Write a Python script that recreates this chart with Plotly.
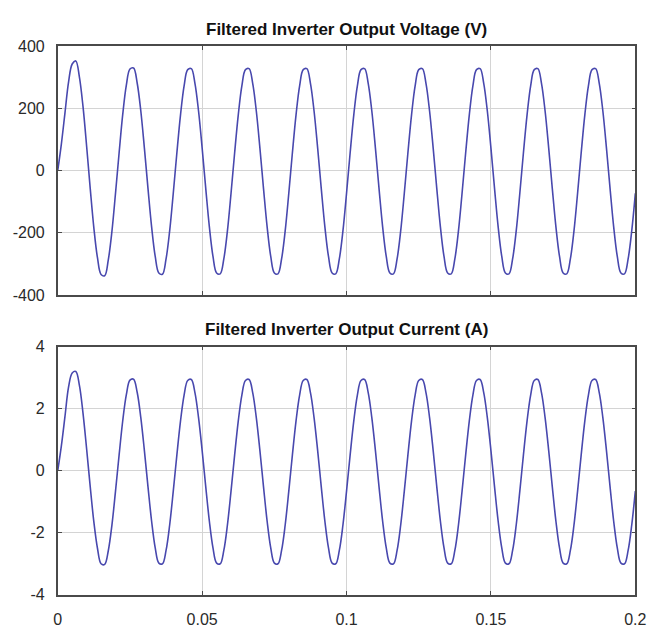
import numpy as np
import plotly.graph_objects as go

# sample grid: 0 .. 0.2 s, 1.25 ms step (161 samples)
time_s = np.linspace(0, 0.2, 161)

# Filtered inverter output voltage (V), read per 1.25 ms sample, one row per 20 ms cycle
voltage_v = [
    0, 85, 185, 285, 342, 352, 300, 205, 78, -58, -184, -280, -334, -338, -287, -196,
    -73, 57, 180, 274, 326, 329, 281, 192, 72, -58, -181, -276, -329, -333, -284, -194,
    -73, 57, 178, 272, 324, 327, 280, 191, 72, -58, -181, -276, -329, -332, -284, -194,
    -73, 57, 178, 272, 324, 327, 280, 191, 72, -58, -181, -276, -329, -332, -284, -194,
    -73, 57, 178, 272, 324, 327, 280, 191, 72, -58, -181, -276, -329, -332, -284, -194,
    -73, 57, 178, 272, 324, 327, 280, 191, 72, -58, -181, -276, -329, -332, -284, -194,
    -73, 57, 178, 272, 324, 327, 280, 191, 72, -58, -181, -276, -329, -332, -284, -194,
    -73, 57, 178, 272, 324, 327, 280, 191, 72, -58, -181, -276, -329, -332, -284, -194,
    -73, 57, 178, 272, 324, 327, 280, 191, 72, -58, -181, -276, -329, -332, -284, -194,
    -73, 57, 178, 272, 324, 327, 280, 191, 72, -58, -181, -276, -329, -332, -284, -194,
    -73,
]

# Filtered inverter output current (A)
current_a = [
    0, 0.80, 1.75, 2.70, 3.15, 3.20, 2.75, 1.85, 0.70, -0.52, -1.65, -2.50, -3.00, -3.02, -2.58, -1.76,
    -0.66, 0.51, 1.61, 2.45, 2.92, 2.95, 2.53, 1.72, 0.65, -0.52, -1.63, -2.49, -2.98, -3.00, -2.57, -1.75,
    -0.66, 0.51, 1.60, 2.44, 2.91, 2.94, 2.52, 1.71, 0.65, -0.52, -1.63, -2.49, -2.98, -3.00, -2.57, -1.75,
    -0.66, 0.51, 1.60, 2.44, 2.91, 2.94, 2.52, 1.71, 0.65, -0.52, -1.63, -2.49, -2.98, -3.00, -2.57, -1.75,
    -0.66, 0.51, 1.60, 2.44, 2.91, 2.94, 2.52, 1.71, 0.65, -0.52, -1.63, -2.49, -2.98, -3.00, -2.57, -1.75,
    -0.66, 0.51, 1.60, 2.44, 2.91, 2.94, 2.52, 1.71, 0.65, -0.52, -1.63, -2.49, -2.98, -3.00, -2.57, -1.75,
    -0.66, 0.51, 1.60, 2.44, 2.91, 2.94, 2.52, 1.71, 0.65, -0.52, -1.63, -2.49, -2.98, -3.00, -2.57, -1.75,
    -0.66, 0.51, 1.60, 2.44, 2.91, 2.94, 2.52, 1.71, 0.65, -0.52, -1.63, -2.49, -2.98, -3.00, -2.57, -1.75,
    -0.66, 0.51, 1.60, 2.44, 2.91, 2.94, 2.52, 1.71, 0.65, -0.52, -1.63, -2.49, -2.98, -3.00, -2.57, -1.75,
    -0.66, 0.51, 1.60, 2.44, 2.91, 2.94, 2.52, 1.71, 0.65, -0.52, -1.63, -2.49, -2.98, -3.00, -2.57, -1.75,
    -0.66,
]

x_tick_vals = [0, 0.05, 0.1, 0.15, 0.2]
x_tick_text = ["0", "0.05", "0.1", "0.15", "0.2"]
v_tick_vals = [-400, -200, 0, 200, 400]
v_tick_text = ["-400", "-200", "0", "200", "400"]
i_tick_vals = [-4, -2, 0, 2, 4]
i_tick_text = ["-4", "-2", "0", "2", "4"]

title_v = "Filtered Inverter Output Voltage (V)"
title_i = "Filtered Inverter Output Current (A)"

W, H = 661, 632
LINE = "#4848ae"
FRAME = "#4a4a4a"
GRID = "#d4d4d4"
FONT = "Liberation Sans, Arial, sans-serif"

fig = go.Figure()
fig.add_trace(go.Scatter(x=time_s, y=voltage_v, mode="lines", line=dict(color=LINE, width=1.6, shape="spline"),
                         xaxis="x", yaxis="y", showlegend=False))
fig.add_trace(go.Scatter(x=time_s, y=current_a, mode="lines", line=dict(color=LINE, width=1.6, shape="spline"),
                         xaxis="x2", yaxis="y2", showlegend=False))

xdom = [55 / W, 646 / W]
common_axis = dict(showline=True, linecolor=FRAME, linewidth=1.6, mirror="ticks", ticks="inside",
                   ticklen=4, tickcolor=FRAME, showgrid=True, gridcolor=GRID, gridwidth=1,
                   zeroline=False, tickfont=dict(family=FONT, size=16, color="#2a2a2a"))

fig.update_layout(
    width=W, height=H, margin=dict(l=0, r=0, t=0, b=0),
    paper_bgcolor="white", plot_bgcolor="white",
    xaxis=dict(domain=xdom, anchor="y", range=[0, 0.2], tickvals=x_tick_vals, showticklabels=False, **common_axis),
    yaxis=dict(domain=[1 - 295 / H, 1 - 39 / H], anchor="x", range=[-400, 400], tickvals=v_tick_vals,
               ticktext=v_tick_text, ticklabelstandoff=8, **common_axis),
    xaxis2=dict(domain=xdom, anchor="y2", range=[0, 0.2], tickvals=x_tick_vals, ticktext=x_tick_text,
                ticklabelstandoff=9, **common_axis),
    yaxis2=dict(domain=[1 - 603 / H, 1 - 348 / H], anchor="x2", range=[-4, 4], tickvals=i_tick_vals,
                ticktext=i_tick_text, ticklabelstandoff=8, **common_axis),
    annotations=[
        dict(text="<b>" + title_v + "</b>", xref="paper", yref="paper", x=(xdom[0] + xdom[1]) / 2,
             y=1 - 22 / H, xanchor="center", yanchor="middle", showarrow=False,
             font=dict(family=FONT, size=17, color="#111111")),
        dict(text="<b>" + title_i + "</b>", xref="paper", yref="paper", x=(xdom[0] + xdom[1]) / 2,
             y=1 - 330 / H, xanchor="center", yanchor="middle", showarrow=False,
             font=dict(family=FONT, size=17, color="#111111")),
    ],
)

fig.write_html("out.html")
